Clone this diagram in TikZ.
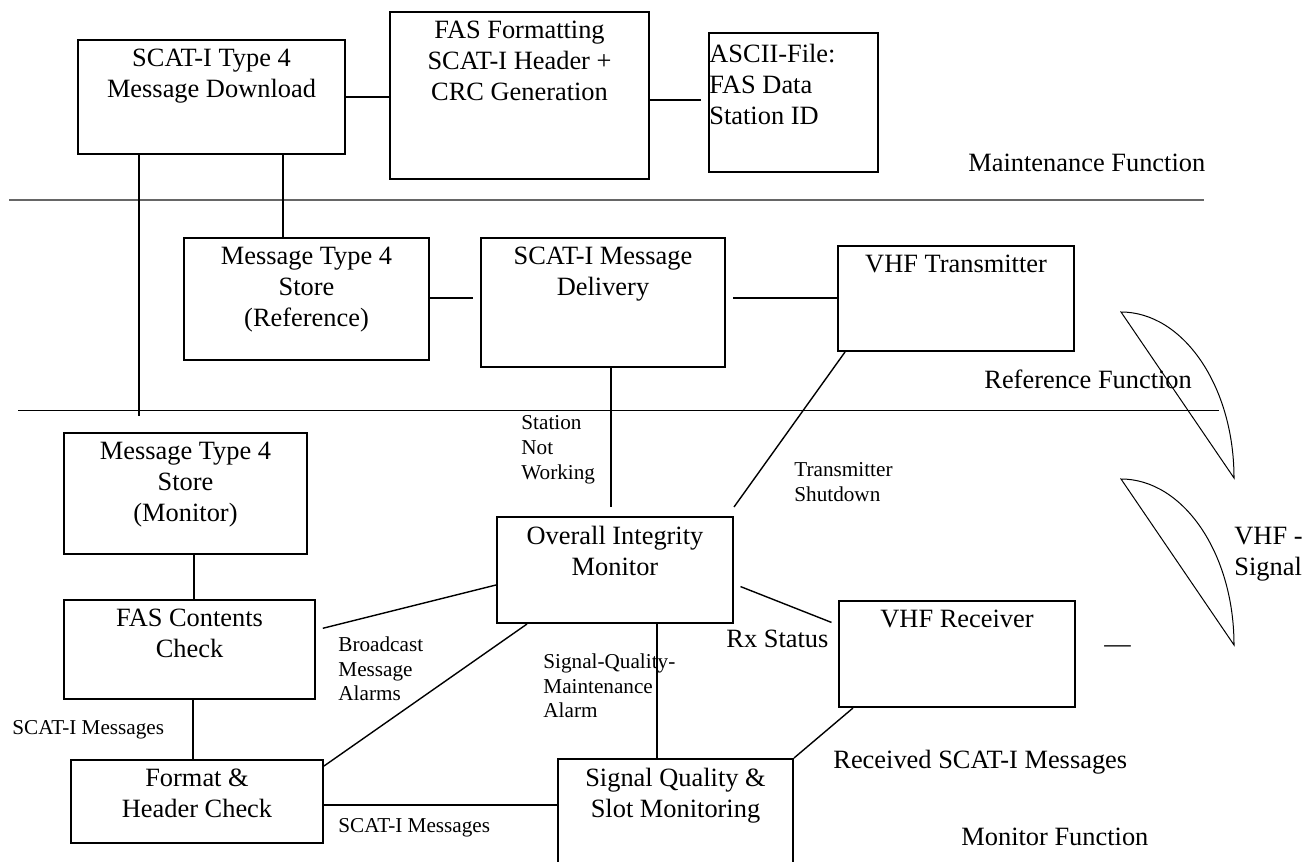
\documentclass[tikz,border=0pt]{standalone}
\usepackage{fontspec}
\setmainfont{Liberation Serif}
\usetikzlibrary{fit}

\begin{document}
\begin{tikzpicture}[x=0.5pt, y=-0.5pt,
    big/.style={font=\fontsize{13.2}{15.5}\selectfont},
    sml/.style={font=\fontsize{10.6}{12.3}\selectfont},
    blk/.style={draw, line width=1pt, inner sep=0pt, shape=rectangle},
    inbox/.style={big, anchor=north, align=center, inner sep=0pt, yshift=-4.75pt},
    note/.style={align=left, anchor=north west, inner sep=0pt},
    free/.style={anchor=base west, inner sep=0pt}]

\useasboundingbox (0,0) rectangle (1315,861);
\clip (0,0) rectangle (1315,861);

% function layers
\coordinate (s1a) at (9,200);
\coordinate (s1b) at (1204,200);
\coordinate (s2a) at (18,410);
\coordinate (s2b) at (1219,410);
\draw [line width=0.75pt, black!60] (s1a) -- (s1b);
\draw [line width=0.5pt] (s2a) -- (s2b);

\node (dl) [blk, fit={(78,40) (345,154)}, label={[inbox]north:{SCAT-I Type 4\\Message Download}}] {};
\node (fb) [blk, fit={(390,12) (649,179)}, label={[inbox]north:{FAS Formatting\\SCAT-I Header +\\CRC Generation}}] {};
\node (af) [blk, fit={(709,33) (878,172)}, label={[inbox, anchor=north west, align=left, xshift=0.5pt, yshift=-1pt]north west:{ASCII-File:\\FAS Data\\Station ID}}] {};

\node (rs) [blk, fit={(184,238) (429,360)}, label={[inbox]north:{Message Type 4\\Store\\(Reference)}}] {};
\node (del) [blk, fit={(481,238) (725,367)}, label={[inbox]north:{SCAT-I Message\\Delivery}}] {};
\node (tx) [blk, fit={(838,246) (1074,351)}, label={[inbox]north:{VHF Transmitter}}] {};

\node (ms) [blk, line width=0.6pt, fit={(64,433) (307,554)}, label={[inbox]north:{Message Type 4\\Store\\(Monitor)}}] {};
\node (hub) [blk, fit={(497,517) (733,623)}, label={[inbox]north:{Overall Integrity\\Monitor}}] {};
\node (rx) [blk, fit={(839,601) (1075,707)}, label={[inbox]north:{VHF Receiver}}] {};
\node (fcc) [blk, fit={(64,600) (315,699)}, label={[inbox]north:{FAS Contents\\Check}}] {};
\node (fhc) [blk, fit={(71,760) (323,843)}, label={[inbox]north:{Format \&\\Header Check}}] {};
\node (sq) [blk, fit={(558,759) (793,880)}, label={[inbox]north:{Signal Quality \&\\Slot Monitoring}}] {};

\begin{scope}[line width=0.7pt]
    \coordinate (dlend) at (139,416);
    \draw (dl.east) -- (dl.east -| fb.west);
    \draw [shorten >=3.5pt] (fb.east |- 0,100) -- (af.west |- 0,100);
    \draw (dl.south -| dlend) -- (dlend);
    \draw (dl.south -| 283,0) -- (rs.north -| 283,0);
    \draw [shorten >=3.5pt] (rs.east |- 0,298) -- (del.west |- 0,298);
    \draw [shorten <=3.5pt] (del.east |- 0,298) -- (tx.west |- 0,298);
    \draw [shorten >=4.5pt] (del.south -| 611,0) -- (hub.north -| 611,0);
    \draw ([xshift=4pt]tx.south west) -- ([yshift=4.5pt]hub.north east);
    \draw [shorten <=3.5pt, shorten >=3.5pt] (hub.east |- 0,584) -- (rx.west |- 0,625);
    \draw [shorten >=3.5pt] (hub.west |- 0,585) -- (fcc.east |- 0,630);
    \draw (hub.south -| 527,0) -- (fhc.east |- 0,766);
    \draw (hub.south -| 657,0) -- (sq.north -| 657,0);
    \draw (rx.south -| 853,0) -- (sq.north east);
    \draw (ms.south -| 194,0) -- (fcc.north -| 194,0);
    \draw (fcc.south -| 193,0) -- (fhc.north -| 193,0);
    \draw (fhc.east |- 0,805) -- (sq.west |- 0,805);
\end{scope}

% VHF signal
\coordinate (w1t) at (1121,312);
\coordinate (w1b) at (1234,478);
\coordinate (w2t) at (1121,479);
\coordinate (w2b) at (1234,645);
\draw [line width=0.5pt] (w1t) .. controls +(62,0) and +(0,-92) .. (w1b) -- cycle;
\draw [line width=0.5pt] (w2t) .. controls +(62,0) and +(0,-92) .. (w2b) -- cycle;

\begin{scope}[every node/.style={big, free}]
    \node (mf) at (968,172) {Maintenance Function};
    \node (rf) at (984,388) {Reference Function};
    \node (mof) at (961,845) {Monitor Function};
    \node (rsm) at (833,768) {Received SCAT-I Messages};
    \node (rxs) at (726,647) {Rx Status};
    \node (dash) at (1104,652) {—};
\end{scope}

\node (vhf) at (1234,527) [big, note] {VHF -\\Signal};

\begin{scope}[every node/.style={sml, note}]
    \node (snw) at (521,415.5) {Station\\Not\\Working};
    \node (ts) at (794,462.5) {Transmitter\\Shutdown};
    \node (sqa) at (543,653.5) {Signal-Quality-\\Maintenance\\Alarm};
    \node (bma) at (338,636.5) {Broadcast\\Message\\Alarms};
\end{scope}
\node (sm1) at (12,734) [sml, free] {SCAT-I Messages};
\node (sm2) at (338,832) [sml, free] {SCAT-I Messages};

\end{tikzpicture}
\end{document}
